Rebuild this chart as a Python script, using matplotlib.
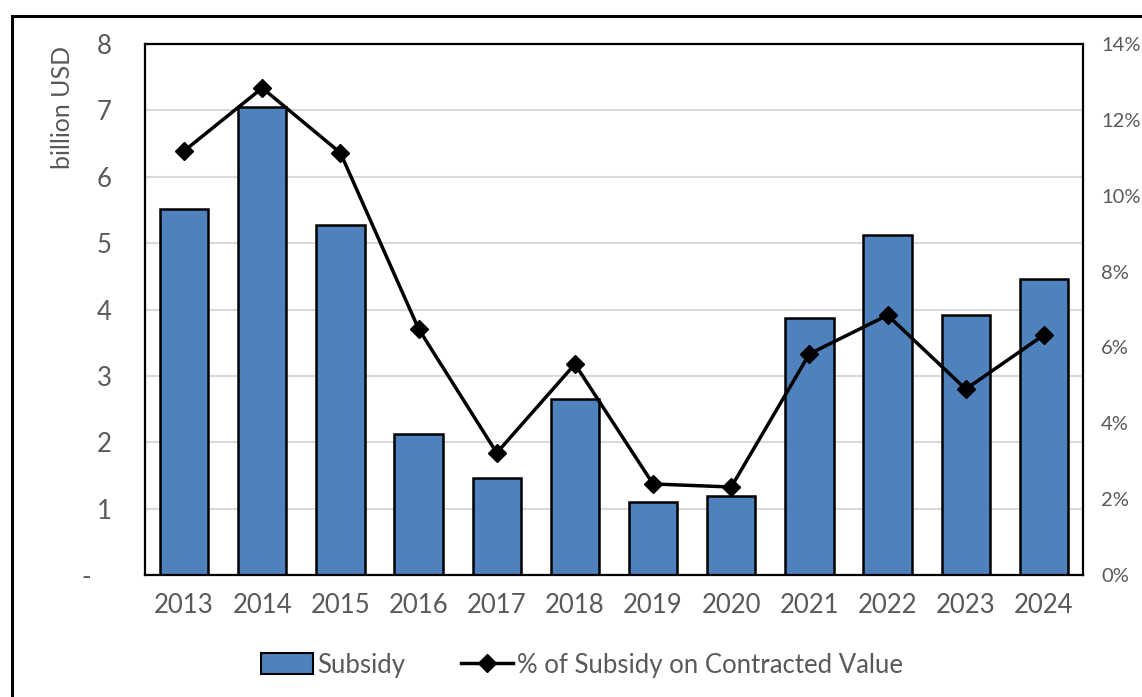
import matplotlib
matplotlib.use("Agg")
import matplotlib.pyplot as plt
from matplotlib.lines import Line2D
from matplotlib.ticker import FuncFormatter, MultipleLocator

years = ["2013", "2014", "2015", "2016", "2017", "2018", "2019", "2020", "2021", "2022", "2023", "2024"]
subsidy = [5.51, 7.05, 5.27, 2.12, 1.46, 2.65, 1.10, 1.19, 3.87, 5.12, 3.92, 4.46]
pct = [11.18, 12.84, 11.13, 6.49, 3.22, 5.56, 2.40, 2.32, 5.83, 6.85, 4.90, 6.33]

plt.rcParams['font.family'] = ['Lato', 'DejaVu Sans']

W, H = 1142, 697
fig = plt.figure(figsize=(W / 100, H / 100), dpi=100)
ax = fig.add_axes([145 / W, 1 - 575 / H, (1083 - 145) / W, (575 - 44) / H])

x = list(range(len(years)))
ax.bar(x, subsidy, width=0.62, color="#4F81BD", edgecolor="black", linewidth=1.8,
       zorder=2, label="Subsidy")
ax.set_xlim(-0.5, len(years) - 0.5)
ax.set_ylim(0, 8)
ax.yaxis.set_major_locator(MultipleLocator(1))
ax.yaxis.set_major_formatter(FuncFormatter(lambda v, p: "-   " if v == 0 else f"{v:.0f}"))
ax.grid(axis="y", color="#D9D9D9", linewidth=1.5, zorder=0)
ax.set_axisbelow(True)
ax.set_xticks(x)
ax.set_xticklabels(years)
ax.tick_params(axis="both", length=0, colors="#595959", labelsize=18.5)
ax.tick_params(axis="y", pad=24)
ax.tick_params(axis="x", pad=13)
for s in ax.spines.values():
    s.set_color("black")
    s.set_linewidth(1.6)
ax.set_ylabel("billion USD", color="#595959", fontsize=18)
ax.yaxis.set_label_coords(-0.076, 0.88)

ax2 = ax.twinx()
ax2.plot(x, pct, color="black", linewidth=2.5, marker="D", markersize=9, zorder=3)
ax2.set_ylim(0, 14)
ax2.yaxis.set_major_locator(MultipleLocator(2))
ax2.yaxis.set_major_formatter(FuncFormatter(lambda v, p: f"{v:.0f}%"))
ax2.tick_params(axis="y", length=0, colors="#595959", labelsize=14.5, pad=13)
for s in ax2.spines.values():
    s.set_visible(False)

handles = [
    plt.Rectangle((0, 0), 1, 1, facecolor="#4F81BD", edgecolor="black", linewidth=1.5),
    Line2D([0], [0], color="black", linewidth=2.5, marker="D", markersize=9),
]
labels = ["Subsidy", "% of Subsidy on Contracted Value"]
fig.legend(handles, labels, loc="center", bbox_to_anchor=(582 / W, 1 - 665 / H), ncol=2,
           frameon=False, fontsize=18.5, labelcolor="#595959", handlelength=2.0,
           handleheight=0.9, handletextpad=0.15, columnspacing=2.2)

# outer chart border
fig.add_artist(Line2D([12 / W, 1.0], [1 - 16 / H, 1 - 16 / H], color="black", linewidth=2.2,
                      transform=fig.transFigure))
fig.add_artist(Line2D([12 / W, 12 / W], [1 - 16 / H, 0], color="black", linewidth=2.2,
                      transform=fig.transFigure))

fig.savefig("out.png", dpi=100)
